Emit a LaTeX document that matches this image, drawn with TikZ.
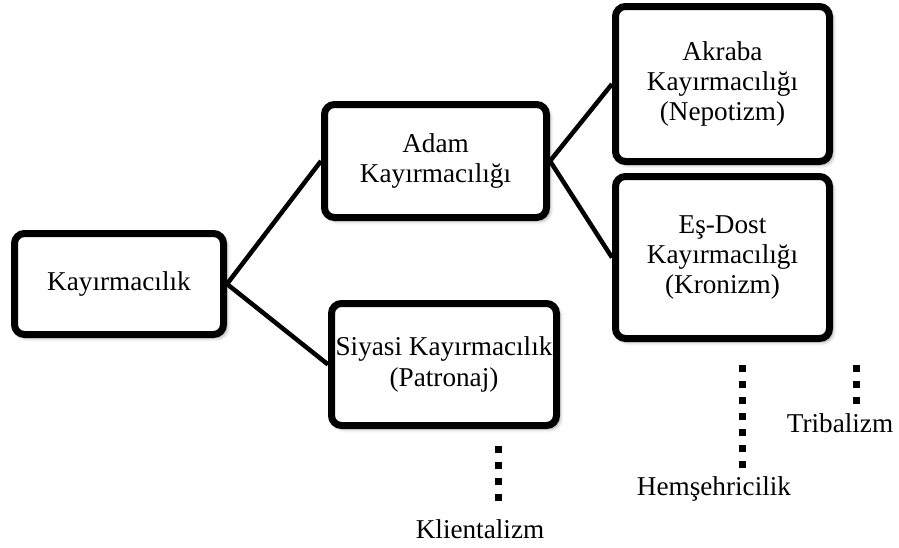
\documentclass[tikz,border=0pt]{standalone}
\usepackage{fontspec}
\setmainfont{Liberation Serif}
\usetikzlibrary{shadows.blur}
% one unit of the drawing grid
\newdimen\pxu \pxu=0.75pt
\begin{document}
\begin{tikzpicture}[x=0.75pt,y=-0.75pt,
  txt/.style={font=\fontsize{20.4pt}{22.8pt}\selectfont},
  box/.style={txt, draw=black, line width=7\pxu, rounded corners=10\pxu,
    fill=white, align=center, inner sep=0pt,
    blur shadow={shadow xshift=3\pxu, shadow yshift=-3\pxu,
      shadow blur radius=4\pxu, shadow opacity=45}},
  link/.style={line width=4.5\pxu},
  dotline/.style={line width=7\pxu, dash pattern=on 7\pxu off 9\pxu},
  lbl/.style={txt, inner sep=0pt, anchor=base}
]
\useasboundingbox (0,0) rectangle (899,547);

% category boxes
\node[box, minimum width=209\pxu, minimum height=101\pxu] (kay) at (119,284) {Kayırmacılık};
\node[box, minimum width=222\pxu, minimum height=113\pxu] (adam) at (435.5,161) {Adam\\Kayırmacılığı};
\node[box, minimum width=225\pxu, minimum height=122\pxu] (siy) at (444,364.5) {Siyasi Kayırmacılık\\(Patronaj)};
\node[box, minimum width=214\pxu, minimum height=155\pxu] (akr) at (722.5,84) {Akraba\\Kayırmacılığı\\(Nepotizm)};
\node[box, minimum width=214\pxu, minimum height=162\pxu] (es) at (722.5,257.5) {Eş-Dost\\Kayırmacılığı\\(Kronizm)};

% tree connectors
\draw[link] (kay.east) -- (adam.west);
\draw[link] (kay.east) -- (siy.west);
\draw[link] (adam.east) -- (akr.west);
\draw[link] (adam.east) -- (es.west);

% related terms
\node[lbl] (kli) at (480,538) {Klientalizm};
\node[lbl] (hem) at (714,495) {Hemşehricilik};
\node[lbl] (tri) at (840,432) {Tribalizm};

\coordinate (k1) at (498,446);  \coordinate (k2) at (498,501);
\coordinate (h1) at (742,365);  \coordinate (h2) at (742,468);
\coordinate (t1) at (856,365);  \coordinate (t2) at (856,404);
\draw[dotline] (k1) -- (k2);
\draw[dotline] (h1) -- (h2);
\draw[dotline] (t1) -- (t2);
\end{tikzpicture}
\end{document}
